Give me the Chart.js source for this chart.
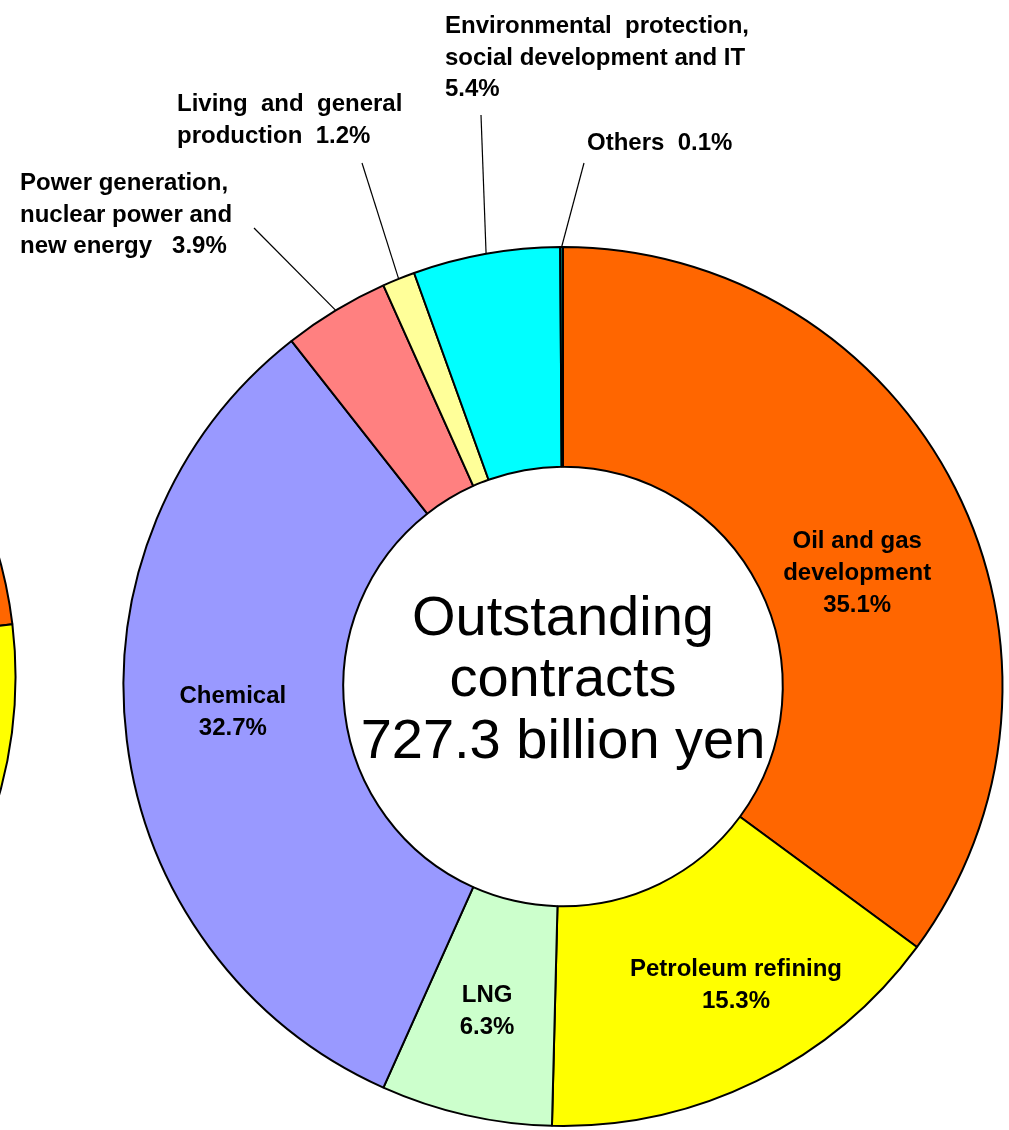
<!DOCTYPE html>
<html>
<head>
<meta charset="utf-8">
<script src="https://cdn.jsdelivr.net/npm/chart.js@4.4.1/dist/chart.umd.min.js"></script>
<style>
  html, body { margin: 0; padding: 0; background: #fff; overflow: hidden; }
  #wrap { position: relative; width: 1009px; height: 1130px; overflow: hidden; }
  canvas { position: absolute; }
  #chartLeft { left: -987px; top: -10px; }
  #chartMain { left: 0; top: 0; }
</style>
</head>
<body>
<div id="wrap">
  <canvas id="chartLeft" width="1009" height="1130"></canvas>
  <canvas id="chartMain" width="1009" height="1130"></canvas>
</div>
<script>
// outstanding contracts by segment (%)
const segments = [
    "Oil and gas development", "Petroleum refining", "LNG", "Chemical",
    "Power generation, nuclear power and new energy", "Living and general production",
    "Environmental protection, social development and IT", "Others",
];
const shares = [35.1, 15.3, 6.3, 32.7, 3.9, 1.2, 5.4, 0.1];
const segColors = ["#FF6600", "#FFFF00", "#CCFFCC", "#9999FF", "#FF8080", "#FFFF99", "#00FFFF", "#008080"];
const totalBillionYen = 727.3;
const centerLines = ["Outstanding", "contracts", totalBillionYen + " billion yen"];

// how each label is broken into lines, {p} = percentage
const labelLines = [
    ["Oil and gas", "development", "{p}"],
    ["Petroleum refining", "{p}"],
    ["LNG", "{p}"],
    ["Chemical", "{p}"],
    ["Power generation,", "nuclear power and", "new energy   {p}"],
    ["Living  and  general", "production  {p}"],
    ["Environmental  protection,", "social development and IT", "{p}"],
    ["Others  {p}"],
];

// neighbouring chart, only its right edge shows at the left of the picture
const leftShares = [23.1, 76.9];
const leftColors = ["#FF6600", "#FFFF00"];

// label placement (inside: offset from slice centre, outside: text anchor + leader end)
const labelLayout = [
    { inside: true, dx: 0, dy: 10 },
    { inside: true, dx: 28, dy: -7 },
    { inside: true, dx: -3, dy: -6 },
    { inside: true, dx: -3, dy: -24 },
    { x: 20, y: 190, lineEnd: [254, 228] },
    { x: 177, y: 111, lineEnd: [362, 163] },
    { x: 445, y: 33, lineEnd: [481, 115] },
    { x: 587, y: 150, lineEnd: [584, 163] },
];

const LABEL_FONT = "bold 24px 'Liberation Sans', Arial, sans-serif";
const CENTER_FONT = "56px 'Liberation Sans', Arial, sans-serif";

const labelPlugin = {
    id: "segLabels",
    afterDatasetsDraw(chart) {
        const ctx = chart.ctx;
        const arcs = chart.getDatasetMeta(0).data;
        ctx.save();
        ctx.fillStyle = "#000";
        ctx.strokeStyle = "#000";
        ctx.lineWidth = 1.2;
        ctx.font = LABEL_FONT;
        ctx.textBaseline = "alphabetic";

        arcs.forEach((arc, i) => {
            const pct = shares[i].toFixed(1) + "%";
            const lines = labelLines[i].map(s => s.replace("{p}", pct));
            const lay = labelLayout[i];
            if (lay.inside) {
                const pos = arc.tooltipPosition();
                ctx.textAlign = "center";
                lines.forEach((t, k) => ctx.fillText(t, pos.x + lay.dx, pos.y + lay.dy + k * 32));
            } else {
                const p = arc.getProps(["x", "y", "startAngle", "endAngle", "outerRadius"]);
                const mid = (p.startAngle + p.endAngle) / 2;
                ctx.beginPath();
                ctx.moveTo(p.x + Math.cos(mid) * p.outerRadius, p.y + Math.sin(mid) * p.outerRadius);
                ctx.lineTo(lay.lineEnd[0], lay.lineEnd[1]);
                ctx.stroke();
                ctx.textAlign = "left";
                lines.forEach((t, k) => ctx.fillText(t, lay.x, lay.y + k * 31.5));
            }
        });

        // centre text
        const a0 = arcs[0];
        ctx.font = CENTER_FONT;
        ctx.textAlign = "center";
        const offs = [-51.5, 9, 71];
        centerLines.forEach((t, k) => ctx.fillText(t, a0.x, a0.y + offs[k]));
        ctx.restore();
    },
};

const baseOpts = {
    responsive: false,
    animation: false,
    events: [],
    devicePixelRatio: 1,
    radius: 439.5,
    cutout: "50%",
    rotation: 0,
    layout: { padding: { left: 117, right: 0, top: 243, bottom: 0 } },
    plugins: { legend: { display: false }, tooltip: { enabled: false } },
};

new Chart(document.getElementById("chartLeft"), {
    type: "doughnut",
    data: {
        labels: ["Oil and gas development", "Petroleum refining"],
        datasets: [{ data: leftShares, backgroundColor: leftColors, borderColor: "#000", borderWidth: 2 }],
    },
    options: baseOpts,
});

new Chart(document.getElementById("chartMain"), {
    type: "doughnut",
    data: {
        labels: segments,
        datasets: [{ data: shares, backgroundColor: segColors, borderColor: "#000", borderWidth: 2 }],
    },
    options: baseOpts,
    plugins: [labelPlugin],
});
</script>
</body>
</html>
